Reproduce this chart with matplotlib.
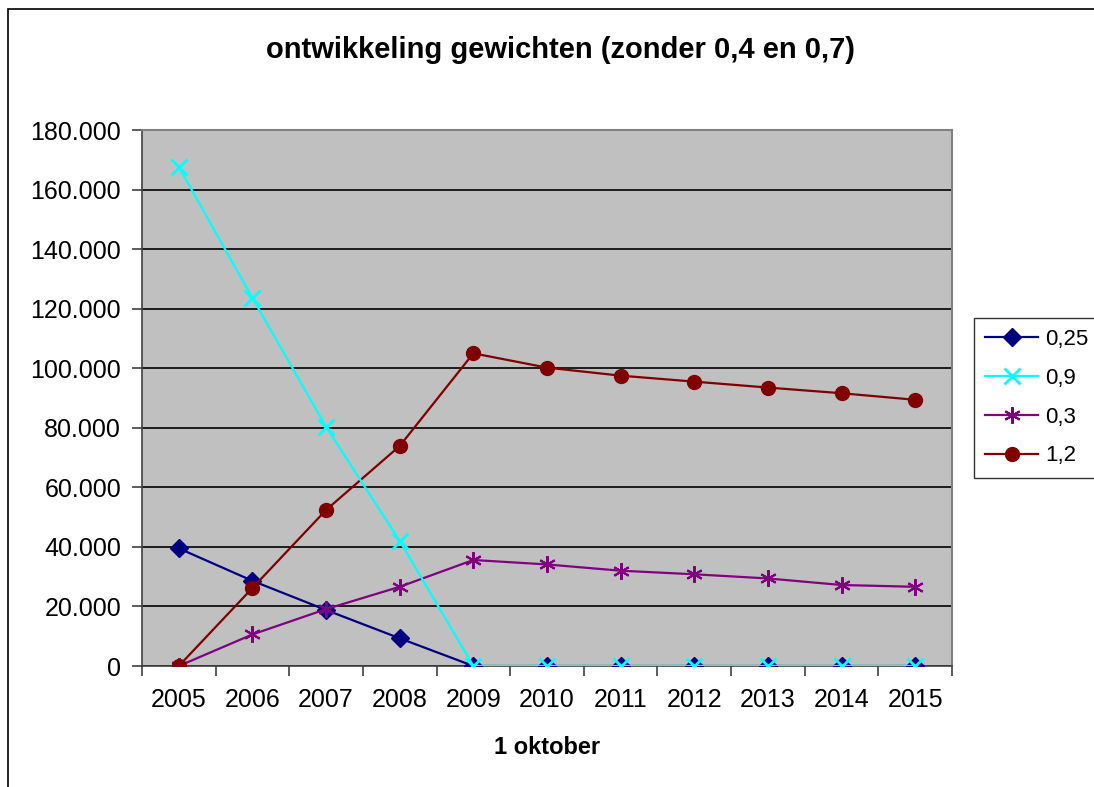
import matplotlib
matplotlib.use("Agg")
import matplotlib.pyplot as plt
from matplotlib.patches import Rectangle
from matplotlib.ticker import FuncFormatter, FixedLocator, NullFormatter

plt.rcParams['font.family'] = ['Liberation Sans', 'DejaVu Sans']

years = ["2005", "2006", "2007", "2008", "2009", "2010", "2011", "2012", "2013", "2014", "2015"]
s_025 = [39500, 28600, 18800, 9300, 0, 0, 0, 0, 0, 0, 0]
s_09 = [167600, 123600, 80300, 42000, 0, 0, 0, 0, 0, 0, 0]
s_03 = [0, 10600, 19100, 26600, 35600, 34100, 32000, 30800, 29400, 27200, 26600]
s_12 = [0, 26200, 52400, 73900, 105000, 100200, 97500, 95500, 93500, 91600, 89400]
series_names = ["0,25", "0,9", "0,3", "1,2"]

fig = plt.figure(figsize=(10.94, 7.87), dpi=100)
fig.patch.set_facecolor("white")
fig.add_artist(Rectangle((8 / 1094, -0.05), 1.2, 1 - 9 / 787 + 0.05, transform=fig.transFigure,
                         fill=False, edgecolor="black", linewidth=1.2))

ax = fig.add_axes([142 / 1094, 1 - 666 / 787, (952 - 142) / 1094, (666 - 130) / 787])
ax.set_facecolor("#C0C0C0")

x = list(range(len(years)))
ax.plot(x, s_025, color="#000080", marker="D", markersize=9, linewidth=1.6, label=series_names[0], zorder=3)
ax.plot(x, s_09, color="#00FFFF", marker="x", markersize=12, markeredgewidth=2, linewidth=1.6, label=series_names[1], zorder=4)
ax.plot(x, s_03, color="#800080", marker=(6, 2, 0), markersize=12, markeredgewidth=1.5, linewidth=1.6, label=series_names[2], zorder=3)
ax.plot(x, s_12, color="#800000", marker="o", markersize=10, linewidth=1.6, label=series_names[3], zorder=3)

ax.set_xlim(-0.5, len(years) - 0.5)
ax.set_ylim(0, 180000)
ax.set_yticks(range(0, 180001, 20000))
ax.yaxis.set_major_formatter(FuncFormatter(lambda v, p: f"{int(v):,}".replace(",", ".")))
ax.grid(axis="y", color="black", linewidth=1.2)
ax.set_axisbelow(True)

ax.set_xticks(x)
ax.set_xticklabels(years)
ax.xaxis.set_minor_locator(FixedLocator([i - 0.5 for i in range(len(years) + 1)]))
ax.xaxis.set_minor_formatter(NullFormatter())
ax.tick_params(axis="x", which="major", length=0, pad=16, labelsize=18)
ax.tick_params(axis="x", which="minor", length=7, width=1.2, color="#404040")
ax.tick_params(axis="y", length=7, width=1.2, color="#404040", labelsize=18, pad=8)

for side in ["top", "right"]:
    ax.spines[side].set_color("#808080")
    ax.spines[side].set_linewidth(1.5)
ax.spines["left"].set_color("#404040")
ax.spines["bottom"].set_color("#404040")
ax.spines["left"].set_linewidth(1.2)
ax.spines["bottom"].set_linewidth(1.2)

fig.text(560 / 1094, 1 - 50 / 787, "ontwikkeling gewichten (zonder 0,4 en 0,7)", ha="center", va="center",
         fontsize=21, fontweight="bold")
fig.text(547 / 1094, 1 - 747 / 787, "1 oktober", ha="center", va="center", fontsize=17, fontweight="bold")

leg = fig.legend(loc="upper left", bbox_to_anchor=(974 / 1094, 1 - 318 / 787), fontsize=16,
                 frameon=True, fancybox=False, edgecolor="black", handlelength=2.4,
                 handletextpad=0.3, labelspacing=0.8, borderpad=0.5, borderaxespad=0)
leg.get_frame().set_linewidth(1.0)

fig.savefig("out.png", dpi=100)
